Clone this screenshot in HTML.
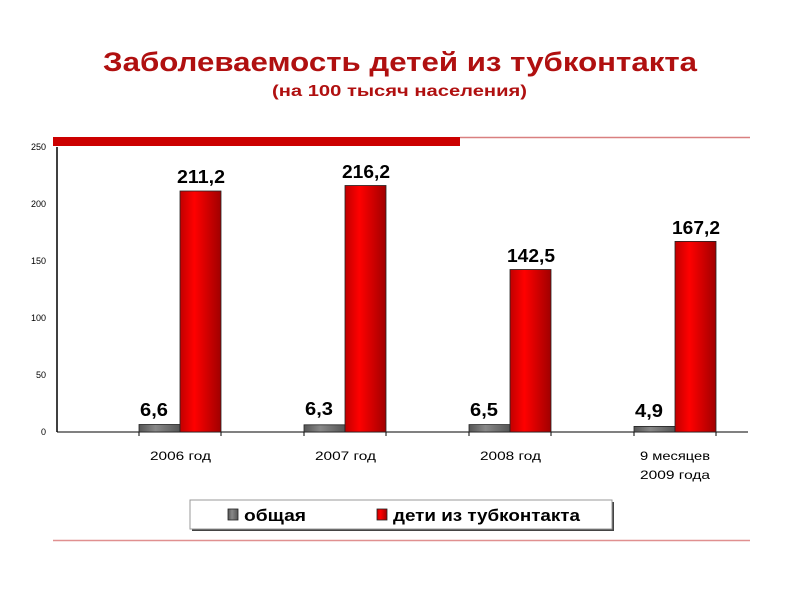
<!DOCTYPE html>
<html><head><meta charset="utf-8"><style>
body{margin:0;background:#fff;}
svg{display:block;font-family:"Liberation Sans",sans-serif;}
</style></head><body>
<svg width="800" height="600" viewBox="0 0 800 600">
<defs>
<linearGradient id="r" x1="0" x2="1"><stop offset="0" stop-color="#c00000"/><stop offset="0.35" stop-color="#ff0000"/><stop offset="1" stop-color="#a00000"/></linearGradient>
<linearGradient id="g" x1="0" x2="1"><stop offset="0" stop-color="#555"/><stop offset="0.4" stop-color="#888"/><stop offset="1" stop-color="#555"/></linearGradient>
</defs>
<text x="103" y="71" textLength="594" lengthAdjust="spacingAndGlyphs" font-size="27" font-weight="bold" fill="#b01010">Заболеваемость детей из тубконтакта</text>
<text x="272" y="96" textLength="255" lengthAdjust="spacingAndGlyphs" font-size="16" font-weight="bold" fill="#b01010">(на 100 тысяч населения)</text>
<line x1="460" y1="137.5" x2="750" y2="137.5" stroke="#d98080" stroke-width="1.5"/>
<rect x="53" y="137" width="407" height="9" fill="#cc0000"/>
<line x1="53" y1="540.5" x2="750" y2="540.5" stroke="#e09090" stroke-width="1.5"/>
<g font-size="9" fill="#000" text-anchor="end">
<text x="46" y="150">250</text><text x="46" y="207">200</text><text x="46" y="264">150</text><text x="46" y="321">100</text><text x="46" y="378">50</text><text x="46" y="435">0</text>
</g>
<line x1="57" y1="147" x2="57" y2="432" stroke="#000" stroke-width="1.5"/>
<line x1="57" y1="432" x2="748" y2="432" stroke="#000"/>
<g stroke="#000">
<line x1="139" y1="432" x2="139" y2="436"/><line x1="221" y1="432" x2="221" y2="436"/>
<line x1="304" y1="432" x2="304" y2="436"/><line x1="386" y1="432" x2="386" y2="436"/>
<line x1="469" y1="432" x2="469" y2="436"/><line x1="551" y1="432" x2="551" y2="436"/>
<line x1="634" y1="432" x2="634" y2="436"/><line x1="716" y1="432" x2="716" y2="436"/>
</g>
<g stroke="#222" stroke-width="0.8">
<rect x="139" y="424.5" width="41" height="7.5" fill="url(#g)"/>
<rect x="180" y="191" width="41" height="241" fill="url(#r)"/>
<rect x="304" y="424.8" width="41" height="7.2" fill="url(#g)"/>
<rect x="345" y="185.5" width="41" height="246.5" fill="url(#r)"/>
<rect x="469" y="424.6" width="41" height="7.4" fill="url(#g)"/>
<rect x="510" y="269.5" width="41" height="162.5" fill="url(#r)"/>
<rect x="634" y="426.4" width="41" height="5.6" fill="url(#g)"/>
<rect x="675" y="241.4" width="41" height="190.6" fill="url(#r)"/>
</g>
<g font-size="18" font-weight="bold" fill="#000">
<text x="177" y="183" textLength="48" lengthAdjust="spacingAndGlyphs">211,2</text>
<text x="342" y="178" textLength="48" lengthAdjust="spacingAndGlyphs">216,2</text>
<text x="507" y="262" textLength="48" lengthAdjust="spacingAndGlyphs">142,5</text>
<text x="672" y="234" textLength="48" lengthAdjust="spacingAndGlyphs">167,2</text>
<text x="140" y="416" textLength="28" lengthAdjust="spacingAndGlyphs">6,6</text>
<text x="305" y="415" textLength="28" lengthAdjust="spacingAndGlyphs">6,3</text>
<text x="470" y="416" textLength="28" lengthAdjust="spacingAndGlyphs">6,5</text>
<text x="635" y="417" textLength="28" lengthAdjust="spacingAndGlyphs">4,9</text>
</g>
<g font-size="12" fill="#000">
<text x="150" y="460" textLength="61" lengthAdjust="spacingAndGlyphs">2006 год</text>
<text x="315" y="460" textLength="61" lengthAdjust="spacingAndGlyphs">2007 год</text>
<text x="480" y="460" textLength="61" lengthAdjust="spacingAndGlyphs">2008 год</text>
<text x="640" y="460" textLength="70" lengthAdjust="spacingAndGlyphs">9 месяцев</text>
<text x="640" y="479" textLength="70" lengthAdjust="spacingAndGlyphs">2009 года</text>
</g>
<rect x="192" y="502" width="422" height="29" fill="#444"/>
<rect x="190" y="500" width="422" height="29" fill="#fff" stroke="#999"/>
<rect x="228" y="509" width="10" height="11" fill="url(#g)" stroke="#222" stroke-width="0.8"/>
<text x="244" y="521" font-size="17" font-weight="bold" textLength="62" lengthAdjust="spacingAndGlyphs">общая</text>
<rect x="377" y="509" width="10" height="11" fill="url(#r)" stroke="#222" stroke-width="0.8"/>
<text x="393" y="521" font-size="17" font-weight="bold" textLength="187" lengthAdjust="spacingAndGlyphs">дети из тубконтакта</text>
</svg>
</body></html>
